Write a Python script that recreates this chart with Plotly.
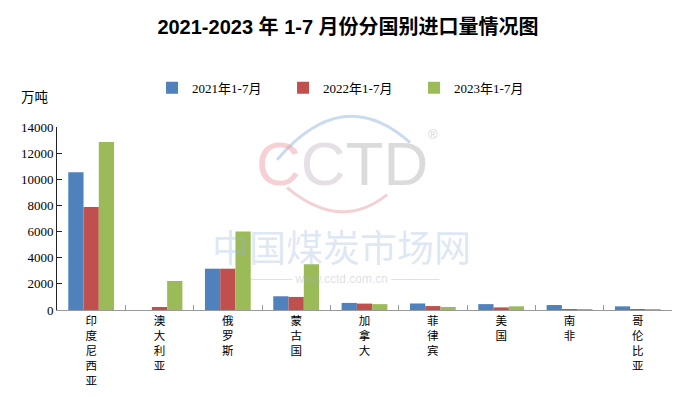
import plotly.graph_objects as go

categories = ["印度尼西亚", "澳大利亚", "俄罗斯", "蒙古国", "加拿大", "菲律宾", "美国", "南非", "哥伦比亚"]
series_names = ["2021年1-7月", "2022年1-7月", "2023年1-7月"]
v2021 = [10530, 0, 3160, 1050, 540, 500, 450, 380, 280]
v2022 = [7880, 230, 3160, 1000, 490, 300, 200, 30, 40]
v2023 = [12850, 2220, 6000, 3500, 450, 230, 280, 20, 50]
colors = ["#4F81BD", "#C0504D", "#9BBB59"]
y_ticks = [0, 2000, 4000, 6000, 8000, 10000, 12000, 14000]

tick_text = ["<br>".join(list(c)) for c in categories]

fig = go.Figure()
for name, vals, col in zip(series_names, [v2021, v2022, v2023], colors):
    fig.add_trace(go.Bar(x=categories, y=vals, name=name, marker_color=col,
                         marker_line_width=0))

serif = "Liberation Serif, Noto Sans CJK SC, serif"
cjk = "Noto Sans CJK SC, sans-serif"

L, W, B, H = 57, 614.7, 310.3, 183.0


def px(x):
    return (x - L) / W


def py(y):
    return (B - y) / H


fig.update_layout(
    width=683, height=397,
    margin=dict(l=57, r=11, t=127, b=87, autoexpand=False),
    paper_bgcolor="white", plot_bgcolor="white",
    barmode="group", bargap=0.33, bargroupgap=0,
    title=dict(text="<b>2021-2023 年 1-7 月份分国别进口量情况图</b>",
               font=dict(family="Liberation Sans, Noto Sans CJK SC, sans-serif", size=20, color="black"),
               x=348 / 683, xanchor="center", y=1 - 27 / 397, yanchor="middle", yref="container"),
    legend=dict(orientation="h", x=px(152), xanchor="left", y=py(88), yanchor="middle",
                font=dict(family=serif, size=13, color="black"),
                entrywidth=86, entrywidthmode="pixels", bgcolor="rgba(0,0,0,0)"),
    showlegend=True,
    xaxis=dict(type="category", tickmode="array", tickvals=categories, ticktext=tick_text,
               tickfont=dict(family=cjk, size=11.5, color="black"),
               showline=True, linecolor="#999999", linewidth=1, automargin=False,
               ticks="inside", ticklen=5, tickcolor="#999999", tickson="boundaries",
               showgrid=False, zeroline=False),
    yaxis=dict(range=[0, 14000], tickmode="array", tickvals=y_ticks,
               ticktext=[str(t) for t in y_ticks], automargin=False,
               tickfont=dict(family=serif, size=13, color="black"),
               showline=True, linecolor="#222222", linewidth=1,
               ticks="inside", ticklen=5, tickcolor="#222222",
               showgrid=False, zeroline=False),
)

# unit label
fig.add_annotation(text="万吨", x=px(34.5), xref="paper", xanchor="center",
                   y=py(96), yref="paper", yanchor="middle",
                   showarrow=False, font=dict(family=cjk, size=13.5, color="black"))

# watermark (CCTD logo)
fig.add_shape(type="path", xref="paper", yref="paper", layer="below",
              path=f"M {px(277)},{py(160)} Q {px(343)},{py(82.5)} {px(410)},{py(143)}",
              line=dict(color="rgba(160,190,225,0.55)", width=3))
fig.add_shape(type="path", xref="paper", yref="paper", layer="below",
              path=f"M {px(287)},{py(188)} Q {px(340)},{py(232.5)} {px(387)},{py(195)}",
              line=dict(color="rgba(235,170,175,0.55)", width=3))
fig.add_annotation(text="<span style='color:rgba(235,150,155,0.45)'>C</span><span style='color:rgba(200,185,200,0.45)'>C</span><span style='color:rgba(175,175,175,0.45)'>TD</span>",
                   x=px(342), xref="paper", y=py(164), yref="paper", yanchor="middle",
                   showarrow=False, font=dict(family="Liberation Sans, sans-serif", size=62))
fig.add_annotation(text="®", x=px(433), xref="paper", y=py(125), yref="paper",
                   showarrow=False,
                   font=dict(family="Liberation Sans, sans-serif", size=13, color="rgba(170,170,170,0.5)"))
fig.add_annotation(text="中国煤炭市场网", x=px(341), xref="paper", y=py(246), yref="paper",
                   yanchor="middle", showarrow=False,
                   font=dict(family=cjk, size=37, color="rgba(150,180,220,0.33)"))
fig.add_annotation(text="———— www.cctd.com.cn ————", x=px(341), xref="paper", y=py(279), yref="paper",
                   yanchor="middle", showarrow=False,
                   font=dict(family="Liberation Sans, sans-serif", size=12, color="rgba(165,175,190,0.4)"))

fig.write_html("out.html", config={"displayModeBar": False},
               post_script="document.body.style.margin='0';document.body.style.padding='0';")
